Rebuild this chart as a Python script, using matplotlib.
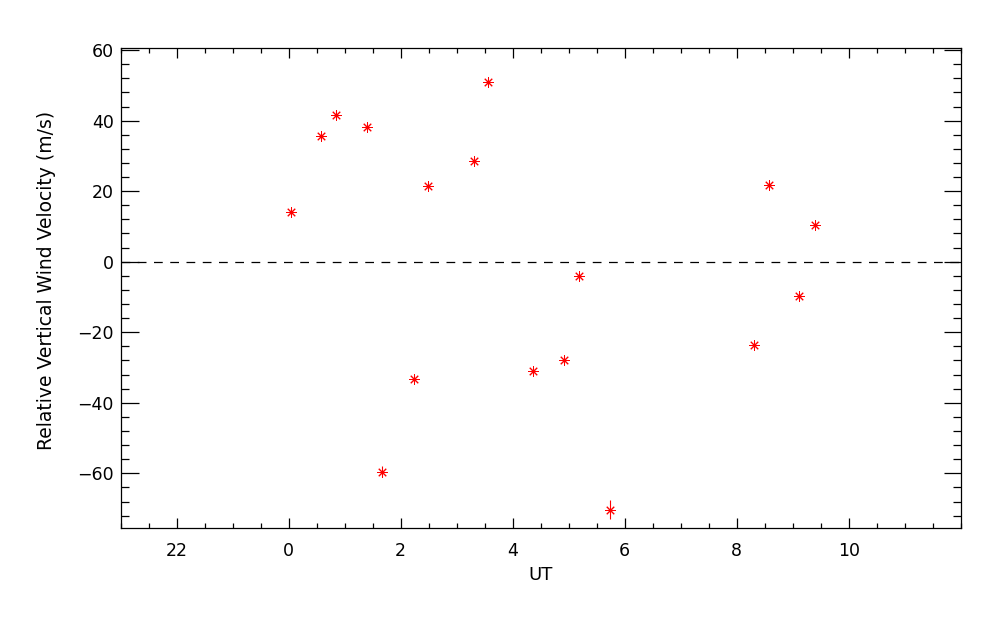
import matplotlib
matplotlib.use("Agg")
import matplotlib.pyplot as plt
from matplotlib.ticker import FixedLocator, MultipleLocator

# UT hours (values < 0 are the previous day, e.g. -2 = 22 UT)
ut = [0.04, 0.58, 0.85, 1.40, 1.67, 2.23, 2.49, 3.30, 3.56,
      4.37, 4.92, 5.19, 5.74, 8.31, 8.58, 9.12, 9.39]
wind = [14.2, 35.6, 41.7, 38.3, -59.5, -33.2, 21.6, 28.6, 51.0,
        -31.1, -27.8, -4.2, -70.3, -23.5, 21.8, -9.8, 10.5]
wind_err = [1.0, 1.0, 1.0, 1.0, 1.5, 1.0, 1.0, 1.0, 1.0,
            1.0, 1.0, 1.0, 2.7, 1.0, 1.0, 1.0, 1.0]

xtick_pos = [-2, 0, 2, 4, 6, 8, 10]
xtick_lab = ["22", "0", "2", "4", "6", "8", "10"]
ytick_pos = [-60, -40, -20, 0, 20, 40, 60]

plt.rcParams['font.family'] = ['DejaVu Sans']

fig = plt.figure(figsize=(10, 6.25), dpi=100)
ax = fig.add_axes([0.1207, 0.1547, 0.84, 0.768])

ax.axhline(0, color="black", lw=0.9, linestyle=(0, (7, 6)))

ax.errorbar(ut, wind, yerr=wind_err, fmt="none", ecolor="red", elinewidth=0.8, capsize=0)
ax.plot(ut, wind, linestyle="none", marker=(8, 2, 0), markersize=7.5,
        markeredgecolor="red", markeredgewidth=0.7)
ax.plot(ut, wind, linestyle="none", marker="o", markersize=2.0,
        markerfacecolor="red", markeredgecolor="red", markeredgewidth=0.5)

ax.set_xlim(-3, 12)
ax.set_ylim(-75.6, 60.5)

ax.xaxis.set_major_locator(FixedLocator(xtick_pos))
ax.set_xticklabels(xtick_lab)
ax.xaxis.set_minor_locator(MultipleLocator(0.5))
ax.yaxis.set_major_locator(FixedLocator(ytick_pos))
ax.yaxis.set_minor_locator(MultipleLocator(4))

ax.tick_params(axis="both", which="both", direction="in", top=True, right=True,
               width=0.9, labelsize=12.5)
ax.tick_params(axis="x", which="major", length=7.2, pad=9.5)
ax.tick_params(axis="x", which="minor", length=3.6)
ax.tick_params(axis="y", which="major", length=12.6, pad=5)
ax.tick_params(axis="y", which="minor", length=6.1)

for s in ax.spines.values():
    s.set_linewidth(0.9)

ax.set_xlabel("UT", fontsize=13, labelpad=5)
ax.set_ylabel("Relative Vertical Wind Velocity (m/s)", fontsize=13.5)
ax.yaxis.set_label_coords(-0.077, 0.517)

fig.savefig("out.png", dpi=100)
